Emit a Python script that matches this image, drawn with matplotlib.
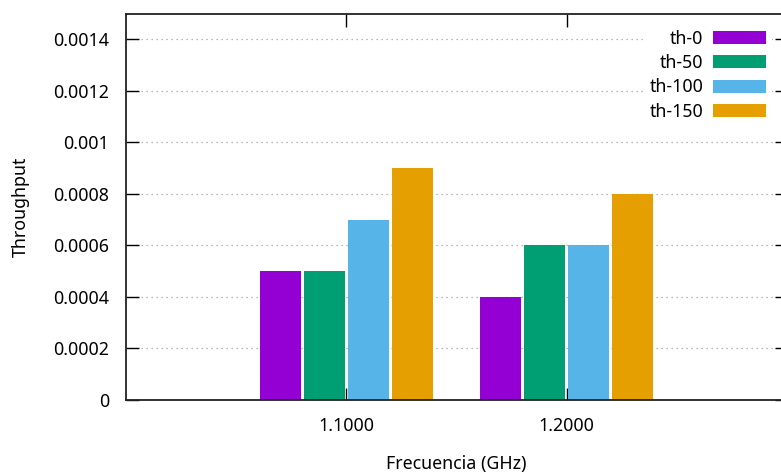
import matplotlib
matplotlib.use("Agg")
import matplotlib.pyplot as plt
import numpy as np
from matplotlib.ticker import FixedLocator, FixedFormatter

plt.rcParams['font.family'] = ['Noto Sans', 'DejaVu Sans']

# Frequencies (GHz) and throughput per thread setting
categories = ['1.1000', '1.2000']
series_names = ['th-0', 'th-50', 'th-100', 'th-150']
th_0 = [0.0005, 0.0004]
th_50 = [0.0005, 0.0006]
th_100 = [0.0007, 0.0006]
th_150 = [0.0009, 0.0008]
series_values = [th_0, th_50, th_100, th_150]
colors = ['#9400d3', '#009e73', '#56b4e9', '#e69f00']

y_ticks = [0, 0.0002, 0.0004, 0.0006, 0.0008, 0.001, 0.0012, 0.0014]
y_tick_labels = ['0', '0.0002', '0.0004', '0.0006', '0.0008', '0.001', '0.0012', '0.0014']

FS = 12.8

W, H = 781, 475
fig = plt.figure(figsize=(W / 100, H / 100), dpi=100)
ax = fig.add_axes([126 / W, 1 - 400 / H, (787 - 126) / W, (400 - 13.5) / H])

x = np.arange(len(categories))
slot = 0.2
bar_w = 0.186
n = len(series_values)
for i, (name, vals, c) in enumerate(zip(series_names, series_values, colors)):
    offs = (i - (n - 1) / 2) * slot
    ax.bar(x + offs, vals, width=bar_w, color=c, label=name, zorder=2,
           edgecolor='none')

ax.set_xlim(-1, 2)
ax.set_ylim(0, 0.0015)

ax.yaxis.set_major_locator(FixedLocator(y_ticks))
ax.yaxis.set_major_formatter(FixedFormatter(y_tick_labels))
ax.set_xticks(x)
ax.set_xticklabels(categories)

ax.tick_params(axis='both', direction='in', length=9, width=1, labelsize=FS,
               colors='black', top=True, right=True)
ax.tick_params(axis='y', pad=12)
ax.tick_params(axis='x', pad=12)

ax.yaxis.grid(True, color='#a0a0a0', linestyle=(0, (1, 3)), linewidth=0.9, zorder=0)
ax.set_axisbelow(True)

for s in ax.spines.values():
    s.set_linewidth(1.3)
    s.set_color('#222222')

ax.set_ylabel('Throughput', fontsize=FS, labelpad=17)
ax.set_xlabel('Frecuencia (GHz)', fontsize=FS, labelpad=15)

leg = ax.legend(loc='upper right', bbox_to_anchor=(0.977, 0.972),
                markerfirst=False, frameon=True, fontsize=FS,
                handlelength=2.98, handleheight=0.73, handletextpad=0.58,
                labelspacing=0.36, borderpad=0.3, borderaxespad=0)
leg.get_frame().set_facecolor('white')
leg.get_frame().set_edgecolor('none')
leg.get_frame().set_alpha(1)
leg.get_frame().set_boxstyle('square', pad=0)
for t in leg.get_texts():
    t.set_ha('right')

fig.savefig('out.png', dpi=100)
